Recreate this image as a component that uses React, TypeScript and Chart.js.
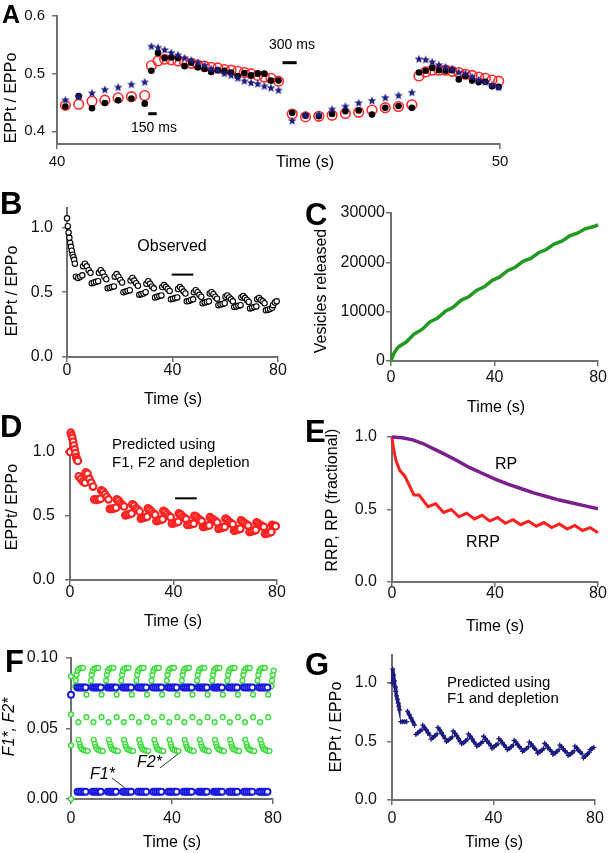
import React, { useEffect, useRef } from "react";
import { Chart, registerables } from "chart.js";
Chart.register(...registerables);

const FONT = "'Liberation Sans', Arial, Helvetica, sans-serif";
const AXIS = "#707070";
const NAVY = "#1c1c80";
const RED = "#ff2020";
const GREEN_F = "#3cdc3c";
const BLUE_F = "#1a1ae0";

// ---------------- Panel A (40-50 s detail) ----------------
const aTimes = [
  40.19, 40.49, 40.79, 41.08, 41.38, 41.68, 41.98,
  42.13, 42.28, 42.43, 42.58, 42.73, 42.88, 43.03, 43.18, 43.33, 43.48,
  43.63, 43.78, 43.93, 44.08, 44.23, 44.38, 44.53, 44.68, 44.83, 45.0,
  45.31, 45.61, 45.91, 46.21, 46.51, 46.81, 47.11, 47.41, 47.71, 48.01,
  48.17, 48.32, 48.47, 48.62, 48.77, 48.92, 49.07, 49.22, 49.37, 49.52, 49.67, 49.82, 49.97,
];
const aStars = [
  0.454, 0.46, 0.466, 0.472, 0.476, 0.481, 0.485,
  0.547, 0.545, 0.541, 0.536, 0.532, 0.527, 0.523, 0.519, 0.514, 0.508,
  0.506, 0.5, 0.497, 0.492, 0.487, 0.484, 0.482, 0.478, 0.475, 0.471,
  0.418, 0.428, 0.429, 0.438, 0.443, 0.449, 0.453, 0.458, 0.462, 0.467,
  0.525, 0.524, 0.52, 0.515, 0.511, 0.508, 0.502, 0.5, 0.494, 0.489, 0.485, 0.48, 0.476,
];
const aDots = [
  0.443, 0.461, 0.44, 0.449, 0.454, 0.457, 0.448,
  0.505, 0.536, 0.527, 0.528, 0.527, 0.513, 0.519, 0.511, 0.508, 0.503,
  0.506, 0.505, 0.502, 0.496, 0.501, 0.497, 0.5, 0.5, 0.488, 0.488,
  0.432, 0.427, 0.426, 0.43, 0.435, 0.436, 0.429, 0.441, 0.444, 0.441,
  0.502, 0.505, 0.51, 0.506, 0.505, 0.506, 0.49, 0.496, 0.488, 0.485, 0.486, 0.478, 0.477,
];
const aCircles = [
  0.445, 0.447, 0.452, 0.454, 0.458, 0.46, 0.462,
  0.514, 0.522, 0.525, 0.524, 0.522, 0.52, 0.518, 0.515, 0.513, 0.511,
  0.51, 0.507, 0.506, 0.504, 0.502, 0.5, 0.497, 0.494, 0.492, 0.487,
  0.43, 0.425, 0.426, 0.428, 0.431, 0.433, 0.437, 0.441, 0.443, 0.446,
  0.496, 0.503, 0.506, 0.506, 0.506, 0.504, 0.502, 0.499, 0.497, 0.494, 0.492, 0.489, 0.487,
];
const aXTicks = [40, 50];
const aXLabels = ["40", "50"];
const aYTicks = [0.4, 0.5, 0.6];
const aYLabels = ["0.4", "0.5", "0.6"];

// ---------------- Shared stimulation train timing (B, D, G) ----------------
const trainInitTimes = [0, 0.3, 0.6, 0.9, 1.2, 1.5, 1.8, 2.1, 2.4, 2.7, 3.0];
const cycleStarts = [0, 6, 12, 18, 24, 30, 36, 42, 48, 54, 60, 66, 72];
const lowOffsets = [3.4, 4.2, 5.0, 5.8]; // 300-ms intervals
const highOffsets = [6.1, 6.8, 7.5, 8.2, 8.9]; // 150-ms intervals

// ---------------- Panel B (observed) ----------------
const bInit = [1.07, 1.01, 0.96, 0.92, 0.88, 0.85, 0.82, 0.79, 0.77, 0.75, 0.72];
const bLow = [
  [0.62, 0.61, 0.62, 0.63],
  [0.57, 0.575, 0.58, 0.585],
  [0.53, 0.535, 0.54, 0.545],
  [0.5, 0.505, 0.51, 0.515],
  [0.48, 0.485, 0.49, 0.5],
  [0.46, 0.465, 0.47, 0.475],
  [0.445, 0.45, 0.455, 0.46],
  [0.43, 0.432, 0.44, 0.445],
  [0.415, 0.42, 0.425, 0.43],
  [0.4, 0.405, 0.41, 0.415],
  [0.385, 0.39, 0.395, 0.4],
  [0.375, 0.38, 0.385, 0.39],
  [0.36, 0.365, 0.37, 0.38],
];
const bHigh = [
  [0.7, 0.72, 0.7, 0.67, 0.65],
  [0.65, 0.67, 0.65, 0.62, 0.6],
  [0.62, 0.64, 0.62, 0.595, 0.575],
  [0.59, 0.61, 0.59, 0.57, 0.55],
  [0.565, 0.585, 0.565, 0.545, 0.53],
  [0.54, 0.555, 0.54, 0.525, 0.51],
  [0.525, 0.54, 0.525, 0.505, 0.49],
  [0.5, 0.515, 0.5, 0.48, 0.465],
  [0.49, 0.5, 0.485, 0.465, 0.45],
  [0.465, 0.475, 0.46, 0.445, 0.43],
  [0.46, 0.47, 0.455, 0.44, 0.425],
  [0.445, 0.455, 0.44, 0.43, 0.415],
  [0.4, 0.42, 0.43],
];

// ---------------- Panel D (predicted F1, F2, depletion) ----------------
const dInit = [1.0, 1.15, 1.13, 1.11, 1.08, 1.05, 1.02, 0.99, 0.96, 0.94, 0.93];
const dLow = [
  [0.81, 0.79, 0.77, 0.76],
  [0.63, 0.625, 0.63, 0.635],
  [0.555, 0.555, 0.56, 0.565],
  [0.505, 0.51, 0.515, 0.52],
  [0.48, 0.485, 0.49, 0.495],
  [0.46, 0.465, 0.47, 0.475],
  [0.44, 0.445, 0.45, 0.455],
  [0.43, 0.433, 0.437, 0.44],
  [0.415, 0.418, 0.422, 0.426],
  [0.4, 0.405, 0.41, 0.415],
  [0.385, 0.39, 0.395, 0.4],
  [0.375, 0.38, 0.385, 0.39],
  [0.36, 0.365, 0.37, 0.375],
];
const dHigh = [
  [0.84, 0.83, 0.79, 0.76, 0.73],
  [0.7, 0.69, 0.67, 0.65, 0.63],
  [0.63, 0.62, 0.6, 0.585, 0.575],
  [0.59, 0.58, 0.56, 0.55, 0.535],
  [0.56, 0.55, 0.535, 0.52, 0.51],
  [0.54, 0.53, 0.515, 0.5, 0.49],
  [0.52, 0.51, 0.495, 0.485, 0.475],
  [0.5, 0.495, 0.48, 0.47, 0.46],
  [0.49, 0.48, 0.47, 0.46, 0.45],
  [0.48, 0.47, 0.455, 0.445, 0.435],
  [0.465, 0.455, 0.445, 0.435, 0.425],
  [0.45, 0.44, 0.43, 0.42, 0.415],
  [0.43, 0.425, 0.42],
];

// ---------------- Panel G (predicted F1, depletion) ----------------
const gInit = [1.0, 1.12, 1.07, 1.02, 0.97, 0.93, 0.89, 0.86, 0.83, 0.8, 0.77];
const gLow = [
  [0.67, 0.67, 0.67, 0.67],
  [0.56, 0.575, 0.59, 0.6],
  [0.52, 0.535, 0.55, 0.565],
  [0.5, 0.51, 0.525, 0.54],
  [0.48, 0.49, 0.505, 0.52],
  [0.46, 0.47, 0.485, 0.5],
  [0.44, 0.455, 0.47, 0.48],
  [0.43, 0.44, 0.455, 0.47],
  [0.415, 0.425, 0.44, 0.455],
  [0.4, 0.41, 0.425, 0.44],
  [0.39, 0.4, 0.415, 0.43],
  [0.38, 0.39, 0.405, 0.42],
  [0.36, 0.375, 0.39, 0.41],
];
const gHigh = [
  [0.76, 0.73, 0.7, 0.67, 0.64],
  [0.64, 0.62, 0.6, 0.575, 0.555],
  [0.62, 0.6, 0.575, 0.55, 0.525],
  [0.59, 0.57, 0.55, 0.525, 0.5],
  [0.565, 0.545, 0.525, 0.5, 0.48],
  [0.545, 0.525, 0.505, 0.485, 0.465],
  [0.525, 0.51, 0.49, 0.47, 0.45],
  [0.51, 0.495, 0.475, 0.455, 0.44],
  [0.495, 0.48, 0.46, 0.44, 0.425],
  [0.485, 0.47, 0.45, 0.43, 0.415],
  [0.47, 0.455, 0.435, 0.42, 0.405],
  [0.46, 0.445, 0.425, 0.41, 0.395],
  [0.43, 0.44, 0.45],
];

const eppYTicks = [0, 0.5, 1.0];
const eppYLabels = ["0.0", "0.5", "1.0"];
const timeTicks = [0, 40, 80];
const timeLabels = ["0", "40", "80"];

// ---------------- Panel C (vesicles released) ----------------
const cTimes = [0, 1, 2, 3, 6, 9, 12, 15, 18, 21, 24, 27, 30, 33, 36, 39, 42, 45, 48, 51, 54, 57, 60, 63, 66, 69, 72, 75, 78, 80];
const cVesicles = [0, 1400, 2300, 2900, 3900, 5500, 6400, 7900, 8700, 10100, 10900, 12300, 13000, 14300, 15050, 16300, 17050, 18300, 19000, 20200, 20800, 21950, 22600, 23700, 24300, 25350, 25900, 26800, 27200, 27600];
const cYTicks = [0, 10000, 20000, 30000];
const cYLabels = ["0", "10000", "20000", "30000"];

// ---------------- Panel E (RRP, RP) ----------------
const eRpTimes = [0, 4, 8, 12, 16, 20, 25, 30, 35, 40, 45, 50, 55, 60, 65, 70, 75, 80];
const eRpValues = [1.0, 0.995, 0.98, 0.955, 0.92, 0.885, 0.84, 0.79, 0.75, 0.71, 0.675, 0.645, 0.615, 0.59, 0.565, 0.545, 0.525, 0.505];
const eRrpTimes = [0, 0.5, 1.5, 3, 5, 8.5, 10.5, 14, 17, 20, 23, 26, 29, 32, 35, 38, 41, 44, 47, 50, 53, 56, 59, 62, 65, 68, 71, 74, 77, 80];
const eRrpValues = [1.0, 0.93, 0.84, 0.77, 0.73, 0.6, 0.6, 0.52, 0.54, 0.48, 0.5, 0.45, 0.475, 0.435, 0.46, 0.42, 0.445, 0.405, 0.43, 0.395, 0.42, 0.385, 0.41, 0.375, 0.4, 0.365, 0.39, 0.355, 0.375, 0.34];

// ---------------- Panel F (F1*, F2*) ----------------
const fCycleStarts = [0, 6, 12, 18, 24, 30, 36, 42, 48, 54, 60, 66, 72];
const fTopOffsets = [1.7, 1.9, 2.2, 2.6, 3.2, 4.0, 4.8];
const fTopValues = [0.08, 0.084, 0.088, 0.091, 0.0925, 0.093, 0.093];
const fTopLastTimes = [79.4, 79.6, 79.9, 80.3, 80.8];
const fTopLastValues = [0.08, 0.084, 0.088, 0.091, 0.0925];
const fBlueOffsets = [2.6, 3.4, 4.2, 5.0, 5.8];
const fBlueHighValues = [0.079, 0.079, 0.079, 0.079, 0.079];
const fBlueLowValues = [0.0052, 0.0052, 0.0052, 0.0052, 0.0052];
const fBottomOffsets = [3.5, 3.8, 4.3, 5.0, 5.8, 6.6];
const fBottomValues = [0.039, 0.037, 0.0355, 0.0348, 0.0343, 0.034];
const fIsoOffsets = [2.9, 3.0, 6.1, 6.1];
const fIsoValues = [0.0545, 0.042, 0.058, 0.074];
const fStartGreen = [0, 0.038, 0.06, 0.087];
const fStartBlue = [0.074];
const fYTicks = [0, 0.05, 0.1];
const fYLabels = ["0.00", "0.05", "0.10"];

// ---------------- helpers ----------------
type Pt = { x: number; y: number };
const pairs = (xs: number[], ys: number[]): Pt[] => xs.map((x, i) => ({ x, y: ys[i] }));

function trainSegments(init: number[], low: number[][], high: number[][]): Pt[][] {
  const segs: Pt[][] = [pairs(trainInitTimes, init)];
  cycleStarts.forEach((c, k) => {
    segs.push(low[k].map((v, i) => ({ x: c + lowOffsets[i], y: v })));
    segs.push(high[k].map((v, i) => ({ x: c + highOffsets[i], y: v })));
  });
  return segs;
}

function tile(starts: number[], offsets: number[], values: number[]): Pt[] {
  const out: Pt[] = [];
  starts.forEach((s) => offsets.forEach((o, i) => out.push({ x: s + o, y: values[i] })));
  return out;
}

type Txt = { t: string; x: number; y: number; size: number; bold?: boolean; italic?: boolean; rot?: boolean; align?: CanvasTextAlign; base?: CanvasTextBaseline };
type Bar = { x1: number; x2: number; y: number; w: number };
type Seg = { x1: number; y1: number; x2: number; y2: number };

function overlay(texts: Txt[], bars: Bar[] = [], leaders: Seg[] = []) {
  return {
    id: "overlay",
    afterDatasetsDraw(chart: any) {
      const ctx = chart.ctx as CanvasRenderingContext2D;
      const xs = chart.scales.x;
      const ys = chart.scales.y;
      ctx.save();
      ctx.strokeStyle = "#000";
      bars.forEach((b) => {
        ctx.lineWidth = b.w;
        ctx.beginPath();
        ctx.moveTo(xs.getPixelForValue(b.x1), ys.getPixelForValue(b.y));
        ctx.lineTo(xs.getPixelForValue(b.x2), ys.getPixelForValue(b.y));
        ctx.stroke();
      });
      ctx.strokeStyle = "#333";
      ctx.lineWidth = 1;
      leaders.forEach((l) => {
        ctx.beginPath();
        ctx.moveTo(l.x1, l.y1);
        ctx.lineTo(l.x2, l.y2);
        ctx.stroke();
      });
      texts.forEach((t) => {
        ctx.save();
        ctx.translate(t.x, t.y);
        if (t.rot) ctx.rotate(-Math.PI / 2);
        ctx.font = `${t.italic ? "italic " : ""}${t.bold ? "bold " : ""}${t.size}px ${FONT}`;
        ctx.fillStyle = "#000";
        ctx.textAlign = t.align ?? "center";
        ctx.textBaseline = t.base ?? "middle";
        ctx.fillText(t.t, 0, 0);
        ctx.restore();
      });
      ctx.restore();
    },
  };
}

type Geo = { L: number; R: number; T: number; B: number };
type Ax = { min: number; max: number; ticks: number[]; labels: string[]; pad: number };

function options(g: Geo, x: Ax, y: Ax, size: number) {
  const grid = { display: true, drawOnChartArea: false, drawTicks: true, tickLength: 5, color: AXIS, lineWidth: 1.5 };
  const border = { display: true, color: AXIS, width: 2 };
  const font = { family: FONT, size };
  const yw = Math.min(g.L - 2, 80);
  return {
    responsive: false,
    maintainAspectRatio: false,
    animation: false,
    events: [],
    layout: { padding: { left: g.L - yw, right: 609 - g.R, top: g.T, bottom: 853 - g.B - 30 } },
    plugins: { legend: { display: false }, tooltip: { enabled: false } },
    scales: {
      x: {
        type: "linear",
        min: x.min,
        max: x.max,
        grid,
        border,
        afterFit: (s: any) => { s.height = 30; },
        afterBuildTicks: (s: any) => { s.ticks = x.ticks.map((v) => ({ value: v })); },
        ticks: { padding: x.pad, font, color: "#111", maxRotation: 0, minRotation: 0, autoSkip: false, callback: (_v: any, i: number) => x.labels[i] },
      },
      y: {
        type: "linear",
        min: y.min,
        max: y.max,
        grid,
        border,
        afterFit: (s: any) => { s.width = yw; },
        afterBuildTicks: (s: any) => { s.ticks = y.ticks.map((v) => ({ value: v })); },
        ticks: { padding: y.pad, font, color: "#111", autoSkip: false, callback: (_v: any, i: number) => y.labels[i] },
      },
    },
  };
}

function starImage(color: string, rOut: number) {
  const c = document.createElement("canvas");
  const s = Math.ceil(rOut * 2 + 2);
  c.width = s;
  c.height = s;
  const ctx = c.getContext("2d")!;
  ctx.fillStyle = color;
  ctx.beginPath();
  for (let i = 0; i < 10; i++) {
    const r = i % 2 === 0 ? rOut : rOut * 0.42;
    const a = -Math.PI / 2 + (i * Math.PI) / 5;
    const px = s / 2 + r * Math.cos(a);
    const py = s / 2 + r * Math.sin(a);
    if (i === 0) ctx.moveTo(px, py);
    else ctx.lineTo(px, py);
  }
  ctx.closePath();
  ctx.fill();
  return c;
}

const letter = (t: string, x: number, y: number, size = 31): Txt => ({ t, x, y, size, bold: true, align: "left", base: "alphabetic" });

// ---------------- chart configs ----------------
function configA() {
  const g = { L: 57, R: 500, T: 13, B: 144 };
  return {
    type: "scatter",
    data: {
      datasets: [
        { data: pairs(aTimes, aStars), pointStyle: starImage(NAVY, 4.6), pointRadius: 5, clip: false },
        { data: pairs(aTimes, aDots), pointStyle: "circle", pointRadius: 3.3, backgroundColor: "#000", borderColor: "#000", borderWidth: 0, clip: false },
        { data: pairs(aTimes, aCircles), pointStyle: "circle", pointRadius: 4.8, backgroundColor: "rgba(0,0,0,0)", borderColor: "#ff2a2a", borderWidth: 1.6, clip: false },
      ],
    },
    options: options(g, { min: 40, max: 50, ticks: aXTicks, labels: aXLabels, pad: 4 }, { min: 0.378, max: 0.6, ticks: aYTicks, labels: aYLabels, pad: 7 }, 15),
    plugins: [
      overlay(
        [
          letter("A", 2, 23, 25),
          { t: "EPPt / EPPo", x: 12, y: 98, size: 16, rot: true },
          { t: "Time (s)", x: 305, y: 163, size: 16 },
          { t: "300 ms", x: 292, y: 45, size: 14 },
          { t: "150 ms", x: 154, y: 128, size: 14 },
        ],
        [
          { x1: 42.06, x2: 42.25, y: 0.4305, w: 3 },
          { x1: 45.09, x2: 45.41, y: 0.519, w: 3 },
        ]
      ),
    ],
  };
}

function configB() {
  const g = { L: 67, R: 278, T: 208, B: 357 };
  const pts = trainSegments(bInit, bLow, bHigh).flat();
  return {
    type: "scatter",
    data: { datasets: [{ data: pts, pointStyle: "circle", pointRadius: 2.7, borderWidth: 1.1, borderColor: "#000", backgroundColor: "#fff", clip: false }] },
    options: options(g, { min: 0, max: 80, ticks: timeTicks, labels: timeLabels, pad: -1 }, { min: 0, max: 1.15, ticks: eppYTicks, labels: eppYLabels, pad: 9 }, 16),
    plugins: [
      overlay(
        [
          letter("B", 0, 214),
          { t: "EPPt / EPPo", x: 13, y: 291, size: 16, rot: true },
          { t: "Time (s)", x: 173, y: 400, size: 16 },
          { t: "Observed", x: 172, y: 247, size: 16 },
        ],
        [{ x1: 39.7, x2: 47.9, y: 0.636, w: 2 }]
      ),
    ],
  };
}

function configC() {
  const g = { L: 391, R: 600, T: 213, B: 361 };
  return {
    type: "scatter",
    data: { datasets: [{ data: pairs(cTimes, cVesicles), showLine: true, borderColor: "#229922", borderWidth: 3.5, pointRadius: 0, clip: false }] },
    options: options(g, { min: 0, max: 80, ticks: timeTicks, labels: timeLabels, pad: 2 }, { min: 0, max: 30000, ticks: cYTicks, labels: cYLabels, pad: 1 }, 16),
    plugins: [
      overlay([
        letter("C", 305, 225),
        { t: "Vesicles released", x: 322, y: 291, size: 16, rot: true },
        { t: "Time (s)", x: 496, y: 408, size: 16 },
      ]),
    ],
  };
}

function configD() {
  const g = { L: 70, R: 277, T: 432, B: 580 };
  const pts = trainSegments(dInit, dLow, dHigh).flat();
  return {
    type: "scatter",
    data: { datasets: [{ data: pts, pointStyle: "circle", pointRadius: 3.3, borderWidth: 2.2, borderColor: RED, backgroundColor: "#fff", clip: false }] },
    options: options(g, { min: 0, max: 80, ticks: timeTicks, labels: timeLabels, pad: -2 }, { min: 0, max: 1.156, ticks: eppYTicks, labels: eppYLabels, pad: 10 }, 16),
    plugins: [
      overlay(
        [
          letter("D", 0, 437),
          { t: "EPPt/ EPPo", x: 13, y: 507, size: 16, rot: true },
          { t: "Time (s)", x: 173, y: 622, size: 16 },
          { t: "Predicted using", x: 112, y: 445, size: 15, align: "left" },
          { t: "F1, F2 and depletion", x: 112, y: 463, size: 15, align: "left" },
        ],
        [{ x1: 40.6, x2: 49.0, y: 0.638, w: 2 }]
      ),
    ],
  };
}

function configE() {
  const g = { L: 392, R: 598, T: 437, B: 582 };
  return {
    type: "scatter",
    data: {
      datasets: [
        { data: pairs(eRpTimes, eRpValues), showLine: true, borderColor: "#7b1f8f", borderWidth: 3.5, pointRadius: 0, clip: false },
        { data: pairs(eRrpTimes, eRrpValues), showLine: true, borderColor: RED, borderWidth: 3, pointRadius: 0, clip: false },
      ],
    },
    options: options(g, { min: 0, max: 80, ticks: timeTicks, labels: timeLabels, pad: -3 }, { min: 0, max: 1.0, ticks: eppYTicks, labels: eppYLabels, pad: 10 }, 16),
    plugins: [
      overlay([
        letter("E", 305, 442),
        { t: "RRP, RP (fractional)", x: 333, y: 500, size: 16, rot: true },
        { t: "Time (s)", x: 495, y: 627, size: 16 },
        { t: "RP", x: 506, y: 465, size: 16 },
        { t: "RRP", x: 483, y: 543, size: 16 },
      ]),
    ],
  };
}

function configF() {
  const g = { L: 71, R: 273, T: 658, B: 799 };
  const green = { pointStyle: "circle", pointRadius: 2.4, borderWidth: 1.4, borderColor: GREEN_F, backgroundColor: "#fff", clip: false };
  const blue = { pointStyle: "circle", pointRadius: 3, borderWidth: 2, borderColor: BLUE_F, backgroundColor: "#fff", clip: false };
  return {
    type: "scatter",
    data: {
      datasets: [
        { ...blue, data: tile(fCycleStarts, fBlueOffsets, fBlueLowValues) },
        { ...blue, data: tile(fCycleStarts, fBlueOffsets, fBlueHighValues) },
        { ...blue, data: fStartBlue.map((v) => ({ x: 0, y: v })) },
        { ...green, data: [...tile(fCycleStarts, fTopOffsets, fTopValues), ...pairs(fTopLastTimes, fTopLastValues)] },
        { ...green, data: tile(fCycleStarts, fBottomOffsets, fBottomValues) },
        { ...green, data: tile(fCycleStarts, fIsoOffsets, fIsoValues) },
        { ...green, data: fStartGreen.map((v) => ({ x: 0, y: v })) },
      ],
    },
    options: options(g, { min: 0, max: 80, ticks: timeTicks, labels: timeLabels, pad: 5 }, { min: 0, max: 0.1, ticks: fYTicks, labels: fYLabels, pad: 8 }, 16),
    plugins: [
      overlay(
        [
          letter("F", 5, 672),
          { t: "F1*, F2*", x: 10, y: 727, size: 16, rot: true, italic: true },
          { t: "Time (s)", x: 172, y: 843, size: 16 },
          { t: "F1*", x: 90, y: 775, size: 16, italic: true, align: "left" },
          { t: "F2*", x: 137, y: 763, size: 16, italic: true, align: "left" },
        ],
        [],
        [
          { x1: 112, y1: 778, x2: 125, y2: 788 },
          { x1: 160, y1: 768, x2: 178, y2: 754 },
        ]
      ),
    ],
  };
}

function configG() {
  const g = { L: 392, R: 595, T: 655, B: 800 };
  const segs = trainSegments(gInit, gLow, gHigh);
  const breaks = new Set<number>();
  let n = 0;
  segs.forEach((s) => { n += s.length; breaks.add(n - 1); });
  return {
    type: "scatter",
    data: {
      datasets: [
        {
          data: segs.flat(),
          showLine: true,
          borderColor: NAVY,
          borderWidth: 3.5,
          segment: { borderColor: (ctx: any) => (breaks.has(ctx.p0DataIndex) ? "rgba(0,0,0,0)" : NAVY) },
          pointStyle: "cross",
          pointRadius: 2.5,
          pointBorderWidth: 1.3,
          pointBorderColor: NAVY,
          clip: false,
        },
      ],
    },
    options: options(g, { min: 0, max: 80, ticks: timeTicks, labels: timeLabels, pad: 4 }, { min: 0, max: 1.24, ticks: eppYTicks, labels: eppYLabels, pad: 10 }, 16),
    plugins: [
      overlay([
        letter("G", 305, 675),
        { t: "EPPt / EPPo", x: 337, y: 727, size: 16, rot: true },
        { t: "Time (s)", x: 494, y: 843, size: 16 },
        { t: "Predicted using", x: 447, y: 683, size: 15, align: "left" },
        { t: "F1 and depletion", x: 447, y: 699, size: 15, align: "left" },
      ]),
    ],
  };
}

function ChartCanvas({ make }: { make: () => any }) {
  const ref = useRef<HTMLCanvasElement>(null);
  useEffect(() => {
    const chart = new Chart(ref.current as HTMLCanvasElement, make());
    return () => chart.destroy();
  }, []);
  return (
    <canvas
      ref={ref}
      width={609}
      height={853}
      style={{ position: "absolute", left: 0, top: 0, width: 609, height: 853 }}
    />
  );
}

export default function App() {
  return (
    <div style={{ position: "absolute", left: 0, top: 0, width: 609, height: 853, background: "#fff", overflow: "hidden" }}>
      <ChartCanvas make={configA} />
      <ChartCanvas make={configB} />
      <ChartCanvas make={configC} />
      <ChartCanvas make={configD} />
      <ChartCanvas make={configE} />
      <ChartCanvas make={configF} />
      <ChartCanvas make={configG} />
    </div>
  );
}
